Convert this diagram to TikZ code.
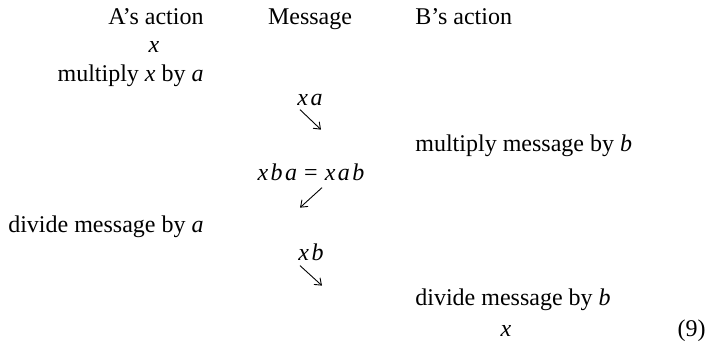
\documentclass[tikz,border=0pt]{standalone}
\usepackage{fontspec}
\setmainfont{Liberation Serif}
\newfontfamily\vfam[LetterSpace=10]{Liberation Serif}
\newcommand\mv[1]{{\vfam\itshape #1}}
\usetikzlibrary{arrows.meta}
\tikzset{
  lbl/.style={inner sep=0pt, font=\fontsize{12}{14}\selectfont},
  acta/.style={lbl, anchor=base east},
  actb/.style={lbl, anchor=base west},
  msg/.style={lbl, anchor=base},
  marr/.style={-{Straight Barb[length=3pt,width=4.5pt]}, line width=0.45pt},
}

\begin{document}
\begin{tikzpicture}[x=0.5pt,y=-0.5pt]
    \useasboundingbox (0,0) rectangle (708,344);
    \node[acta](ha) at (204,24){A's action};
    \node[msg](hm) at (310,24){Message};
    \node[actb](hb) at (415,24){B's action};
    \node[msg](x0) at (154,52){\mv{x}};
    \node[acta](a1) at (204,81){multiply \mv{x} by \mv{a}};
    \node[msg](m1) at (310,105){\mv{xa}};
    \node[actb](b1) at (415,151){multiply message by \mv{b}};
    \node[msg](m2) at (311,180){\mv{xba}\hspace{0.3em}=\hspace{0.3em}\mv{xab}};
    \node[acta](a2) at (204,232){divide message by \mv{a}};
    \node[msg](m3) at (311,260){\mv{xb}};
    \node[actb](b2) at (415,305){divide message by \mv{b}};
    \node[msg](x1) at (506,336){\mv{x}};
    \node[lbl,anchor=base east](eq) at (706,336){(9)};
    \draw[marr]([shift={(-10,4)}]m1.south)--([shift={(11,24)}]m1.south);
    \draw[marr]([shift={(11,7)}]m2.south)--([shift={(-11,27)}]m2.south);
    \draw[marr]([shift={(-11,5)}]m3.south)--([shift={(11,25)}]m3.south);
  \end{tikzpicture}
\end{document}
